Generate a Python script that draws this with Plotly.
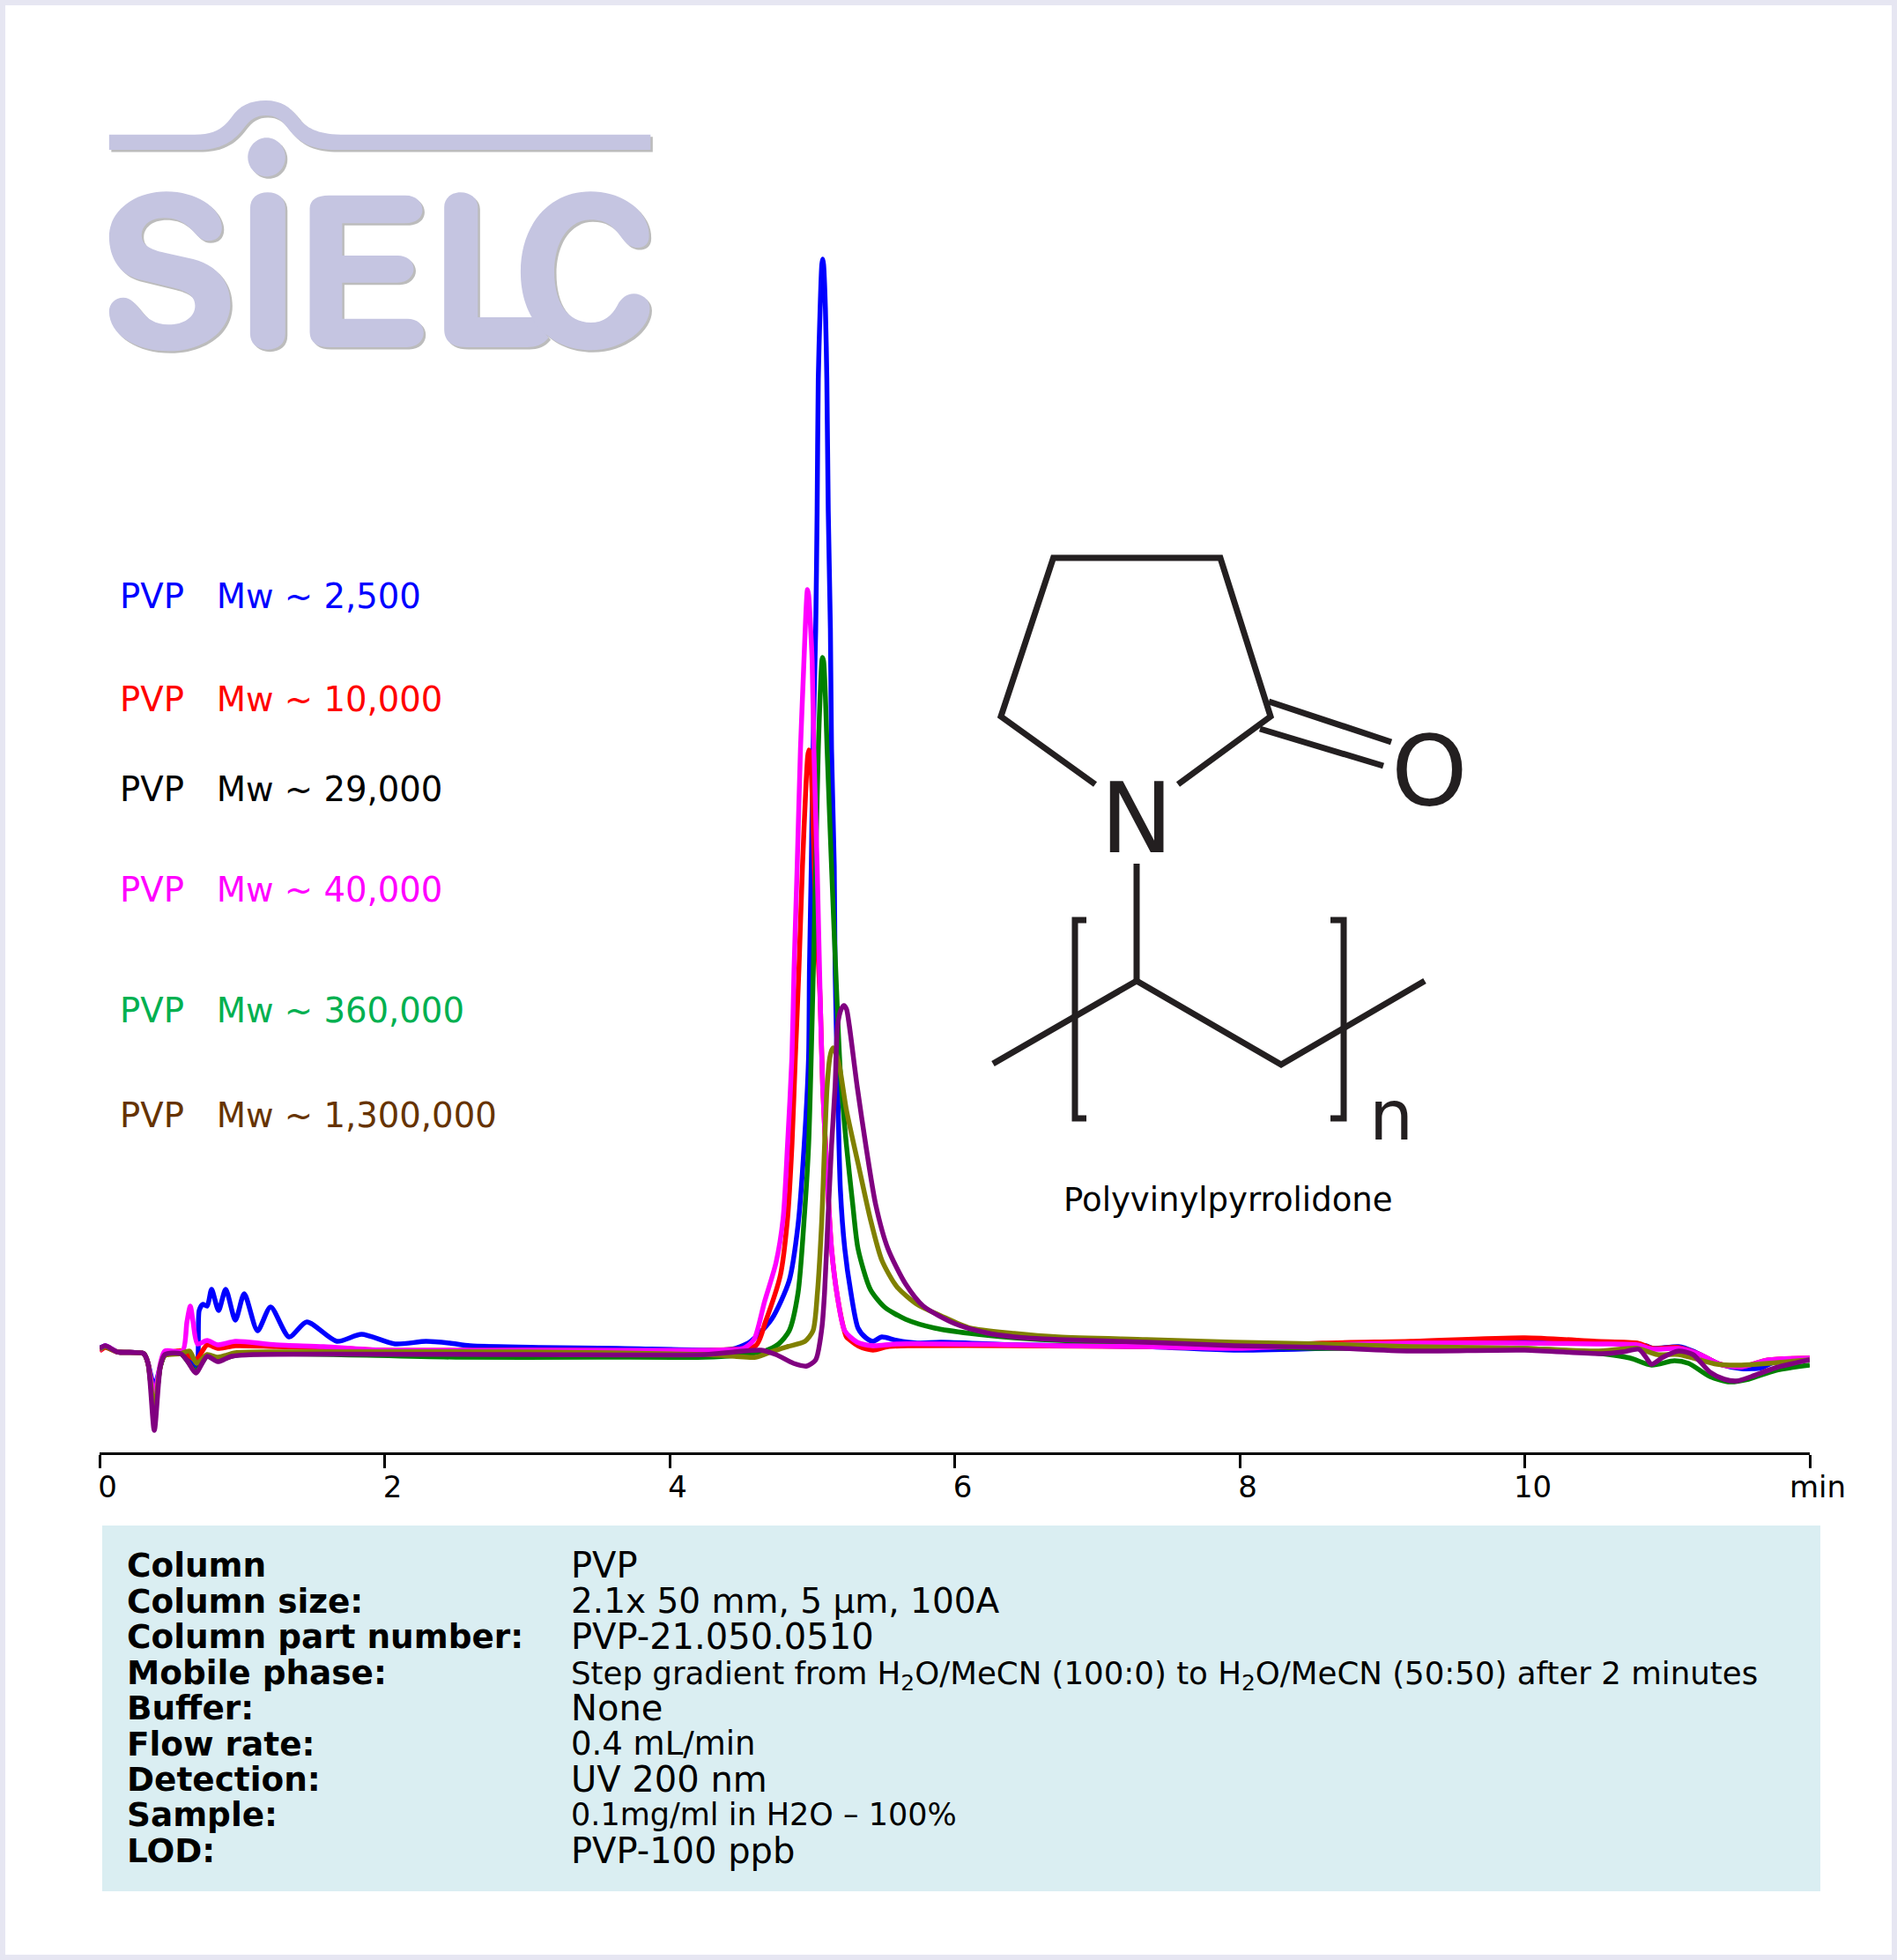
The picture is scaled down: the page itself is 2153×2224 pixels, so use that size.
import re
import plotly.graph_objects as go

# ---------- chart data (minutes, detector response) ----------
TIME_2500 = [0,0.04,0.124,0.31,0.34,0.384,0.427,0.458,0.569,0.644,0.681,0.699,0.724,0.755,0.786,0.835,0.885,0.953,1.015,1.108,1.2,1.33,1.454,1.665,1.838,2.073,2.29,2.457,2.6,3.094,3.632,4.332,4.437,4.561,4.715,4.839,4.901,4.944,4.975,4.981,4.994,5.006,5.025,5.035,5.043,5.056,5.068,5.074,5.08,5.093,5.103,5.113,5.128,5.136,5.155,5.161,5.179,5.198,5.229,5.272,5.322,5.377,5.427,5.489,5.594,5.736,5.903,6.417,7.345,7.96,8.58,9.2,10.0,10.5,10.79,10.85,10.9,11.08,11.18,11.37,11.52,11.66,11.76,12]
RESP_2500 = [7,10,3,1,-10,-36,-13,0,1,-10,-13,50,57,55,74,50,74,39,69,27,54,20,37,15,23,12,15,13,10,8,7,5,6,14,40,84,147,237,337,437,554,687,824,957,1107,1187,1237,1243,1237,1187,1107,957,824,687,554,437,304,187,120,70,30,19,15,20,16,13,14,11,9,5,7,11,17,14,11,10,7,9,4,-11,-16,-15,-8,-5]

TIME_10000 = [0,0.04,0.124,0.31,0.34,0.384,0.427,0.458,0.582,0.675,0.755,0.829,0.953,1.238,1.572,1.98,3.0,4.332,4.604,4.672,4.777,4.827,4.858,4.882,4.907,4.932,4.957,4.969,4.977,4.987,5.0,5.018,5.031,5.056,5.074,5.105,5.136,5.179,5.229,5.241,5.334,5.427,5.532,5.693,6.417,7.345,7.96,8.58,9.2,10,10.5,10.79,10.9,11.08,11.23,11.37,11.52,11.71,12]
RESP_10000 = [4,8,3,1,-10,-53,-13,0,4,-6,11,7,10,9,8,5,5,5,10,37,90,154,237,337,437,554,647,679,686,679,637,537,487,404,304,204,120,64,25,20,9,5,9,10,10,9,8,13,15,19,15,13,7,8,0,-11,-14,-6,-4]

TIME_40000 = [0,0.04,0.124,0.31,0.34,0.384,0.427,0.458,0.582,0.613,0.637,0.656,0.687,0.755,0.829,0.953,1.238,1.572,1.98,3.0,4.332,4.517,4.592,4.666,4.746,4.796,4.827,4.858,4.873,4.895,4.918,4.94,4.955,4.963,4.967,4.975,4.985,5.0,5.012,5.035,5.056,5.074,5.105,5.136,5.179,5.229,5.316,5.427,5.594,6.417,6.726,7.345,7.96,8.58,9.2,10,10.5,10.79,10.9,11.08,11.23,11.37,11.52,11.71,12]
RESP_40000 = [5,10,3,1,-10,-45,-10,4,4,37,55,37,12,16,11,15,11,9,5,5,5,7,17,60,104,154,237,337,437,554,687,777,837,862,868,862,837,787,687,554,407,304,204,120,64,27,14,10,12,11,10,9,7,11,13,13,12,11,6,7,0,-11,-14,-6,-4]

TIME_360000 = [0,0.04,0.124,0.31,0.34,0.384,0.427,0.458,0.569,0.675,0.755,0.829,0.953,1.238,2.5,3.5,4.251,4.455,4.666,4.765,4.839,4.901,4.944,4.975,5.004,5.025,5.043,5.056,5.068,5.072,5.08,5.093,5.105,5.136,5.173,5.198,5.241,5.285,5.322,5.408,5.507,5.656,5.86,6.108,6.417,6.6,7.345,7.96,8.58,10,10.54,10.74,10.89,11.05,11.15,11.3,11.44,11.57,11.76,12]
RESP_360000 = [6,9,3,1,-10,-63,-13,-1,1,-18,-2,-6,-1,1,-3,-3,-3,-1,4,12,27,70,154,237,407,554,687,747,787,791,787,747,687,554,407,320,237,170,120,74,54,40,30,24,19,17,12,10,7,7,1,-4,-12,-7,-10,-25,-31,-28,-18,-12]

TIME_1300000A = [0,0.04,0.124,0.31,0.34,0.384,0.427,0.458,0.569,0.631,0.681,0.755,0.829,0.953,1.238,3,4.251,4.455,4.604,4.728,4.827,4.95,5.006,5.037,5.068,5.087,5.105,5.124,5.136,5.148,5.167,5.192,5.241,5.322,5.408,5.489,5.594,5.736,5.903,6.108,6.417,6.726,7.345,7.96,8.58,9.2,10,10.5,10.79,10.93,11.08,11.35,11.52,11.71,12]
RESP_1300000A = [6,9,3,1,-10,-63,-13,-1,1,4,-10,0,-3,2,3,3,0,-2,-3,4,9,15,27,70,154,237,304,337,345,348,342,327,277,217,154,107,77,57,44,30,24,20,17,14,12,9,7,4,7,0,0,-11,-12,-10,-6]

TIME_1300000B = [0,0.04,0.124,0.31,0.34,0.384,0.427,0.458,0.569,0.619,0.675,0.755,0.829,0.928,1.077,3,4.251,4.455,4.641,4.746,4.87,4.963,5.025,5.068,5.087,5.111,5.136,5.161,5.179,5.204,5.223,5.241,5.26,5.316,5.377,5.446,5.532,5.656,5.78,6.002,6.213,6.417,6.726,7.345,7.96,8.58,9.2,10,10.54,10.69,10.8,10.85,10.89,10.97,11.08,11.18,11.3,11.4,11.49,11.59,11.76,12]
RESP_1300000B = [7,10,3,1,-10,-86,-13,0,1,-8,-21,-2,-8,-2,0,0,0,3,5,0,-10,-13,-6,30,70,154,237,304,374,392,396,392,374,304,237,170,120,80,55,35,25,20,17,14,10,8,4,5,1,3,6,-3,-11,-3,4,0,-20,-28,-30,-25,-15,-6]

TICK_VALUES = [0, 2, 4, 6, 8, 10, 12]
TICK_LABELS = ["0", "2", "4", "6", "8", "10", "min"]

SERIES_LABELS = ["PVP\u00a0\u00a0\u00a0Mw ~ 2,500", "PVP\u00a0\u00a0\u00a0Mw ~ 10,000", "PVP\u00a0\u00a0\u00a0Mw ~ 29,000",
                 "PVP\u00a0\u00a0\u00a0Mw ~ 40,000", "PVP\u00a0\u00a0\u00a0Mw ~ 360,000", "PVP\u00a0\u00a0\u00a0Mw ~ 1,300,000"]
LABEL_COLORS = ["#0000FF", "#FF0000", "#000000", "#FF00FF", "#00B050", "#663300"]
LABEL_Y = [677, 793, 896, 1010, 1146, 1265]

TABLE_KEYS = ["Column", "Column size:", "Column part number:", "Mobile phase:", "Buffer:",
              "Flow rate:", "Detection:", "Sample:", "LOD:"]
TABLE_VALUES = ["PVP", "2.1x 50 mm, 5 µm, 100A", "PVP-21.050.0510",
                "Step gradient from H<sub>2</sub>O/MeCN (100:0) to H<sub>2</sub>O/MeCN (50:50) after 2 minutes",
                "None", "0.4 mL/min", "UV 200 nm", "0.1mg/ml in H2O – 100%", "PVP-100 ppb"]
TABLE_VALUE_SIZES = [40, 39, 40, 35.6, 40, 37, 40, 35, 40]

W, H = 2153, 2224
AXIS_LEFT, AXIS_RIGHT, AXIS_Y, BASE_Y = 113, 2054, 1648, 1537
FONT = "DejaVu Sans"
INK = "#231F20"


def fx(x):
    return x / W


def fy(y):
    return 1 - y / H


def to_paper(path, sx=1.0, sy=1.0, ox=0.0, oy=0.0):
    def rep(m):
        return f"{fx(ox + float(m.group(1)) / sx):.6f},{fy(oy + float(m.group(2)) / sy):.6f}"
    return re.sub(r"(-?[\d.]+),(-?[\d.]+)", rep, path)


fig = go.Figure()

SERIES = [
    ("PVP Mw ~ 2,500", TIME_2500, RESP_2500, "#0000FF"),
    ("PVP Mw ~ 10,000", TIME_10000, RESP_10000, "#FF0000"),
    ("PVP Mw ~ 360,000", TIME_360000, RESP_360000, "#008000"),
    ("PVP Mw ~ 40,000", TIME_40000, RESP_40000, "#FF00FF"),
    ("PVP Mw ~ 1,300,000 (olive)", TIME_1300000A, RESP_1300000A, "#808000"),
    ("PVP Mw ~ 1,300,000", TIME_1300000B, RESP_1300000B, "#800080"),
]
for name, t, r, c in SERIES:
    fig.add_trace(go.Scatter(x=t, y=r, mode="lines", name=name, showlegend=False,
                             line=dict(color=c, width=5.5, shape="spline", smoothing=0.7, simplify=False),
                             hoverinfo="skip"))

shapes = [dict(type="rect", xref="paper", yref="paper", layer="below",
               x0=fx(6), x1=fx(W - 6), y0=fy(6), y1=fy(H - 6),
               fillcolor="#FFFFFF", line=dict(width=0)),
          dict(type="rect", xref="paper", yref="paper", layer="below",
               x0=fx(116), x1=fx(2066), y0=fy(1731), y1=fy(2146),
               fillcolor="#DAEEF2", line=dict(width=0))]

# ---------- logo (outline in its own 2.306 x 3 scaled grid) ----------
LOGO = [
    "M55,188 L280,188 C330,188 355,165 375,130 C395,90 425,72 465,72 C505,72 530,95 550,130 C570,165 600,187 660,188 L1472,188 L1472,240 L650,240 C590,240 555,220 525,170 C505,135 490,123 465,123 C440,123 425,135 405,170 C375,220 340,240 285,240 L55,240 Z",
    "M467,199 C495,199 516,230 516,265 C516,302 495,331 467,331 C440,331 418,302 418,265 C418,230 440,199 467,199 Z",
    "M424,440 C424,405 442,385 470,385 C498,385 516,405 516,440 L516,865 C516,900 498,920 470,920 C442,920 424,900 424,865 Z",
    "M580,440 C580,410 600,395 630,395 L830,395 C860,395 875,420 875,445 C875,470 860,490 830,490 L665,490 L665,600 L810,600 C835,600 852,620 852,645 C852,670 835,692 810,692 L665,692 L665,815 L835,815 C862,815 878,835 878,862 C878,890 862,912 835,912 L630,912 C600,912 580,895 580,860 Z",
    "M932,435 C932,405 950,385 975,385 C1000,385 1020,405 1020,435 L1020,810 L1165,810 L1205,880 C1190,905 1170,912 1150,912 L990,912 C950,912 932,890 932,850 Z",
    "M1468,530 C1470,570 1445,575 1430,572 C1410,568 1400,545 1385,520 C1365,490 1345,478 1315,478 C1260,478 1220,550 1220,655 C1220,760 1255,828 1315,828 C1350,828 1370,805 1385,770 C1395,745 1410,730 1428,730 C1450,730 1470,750 1470,780 C1470,850 1400,922 1315,922 C1210,922 1132,820 1132,655 C1132,490 1210,382 1315,382 C1400,382 1468,450 1468,530 Z",
    "M350,505 C350,535 335,550 315,550 C295,550 285,530 270,510 C250,485 230,472 200,472 C165,472 140,495 140,530 C140,565 165,580 200,590 L275,612 C330,630 372,680 372,765 C372,860 300,925 210,925 C125,925 55,870 55,790 C55,765 70,743 92,743 C112,743 125,765 140,790 C155,815 175,835 210,835 C250,835 280,810 280,770 C280,735 255,720 225,710 L130,680 C85,665 55,610 55,535 C55,450 120,382 205,382 C285,382 350,440 350,505 Z",
]
for p in LOGO:
    shapes.append(dict(type="path", xref="paper", yref="paper", layer="below",
                       path=to_paper(p, 2.306, 3, 102.5, 92.5), fillcolor="#BCBCBC", line=dict(width=0)))
for p in LOGO:
    shapes.append(dict(type="path", xref="paper", yref="paper", layer="below",
                       path=to_paper(p, 2.306, 3, 100, 90), fillcolor="#C5C5E1", line=dict(width=0)))

# ---------- structure formula ----------
BONDS = [
    "M1243,890 L1136,813 L1195.5,633 L1385,633 L1442,813 L1337,890",
    "M1440,796 L1579,842",
    "M1430,827 L1570,869",
    "M1290,980 L1290,1113",
    "M1127,1207 L1290,1113 L1454,1208 L1617,1113",
    "M1233,1044 L1220,1044 L1220,1269 L1233,1269",
    "M1510,1044 L1525,1044 L1525,1269 L1510,1269",
]
for b in BONDS:
    shapes.append(dict(type="path", xref="paper", yref="paper", layer="above",
                       path=to_paper(b), fillcolor="rgba(0,0,0,0)", line=dict(color=INK, width=7)))


def note(x, y, text, size, color="#000000", bold=False, xanchor="left"):
    return dict(x=fx(x), y=fy(y), xref="paper", yref="paper", text=text, showarrow=False,
                xanchor=xanchor, yanchor="middle", align="left", borderpad=0,
                font=dict(family=FONT, size=size, color=color, weight="bold" if bold else "normal"))


ann = []
for s, c, y in zip(SERIES_LABELS, LABEL_COLORS, LABEL_Y):
    ann.append(note(135, y, s, 38.6, c))
for i, (k, v, sz) in enumerate(zip(TABLE_KEYS, TABLE_VALUES, TABLE_VALUE_SIZES)):
    y = 1776.5 + 40.4 * i
    ann.append(note(143, y, k, 37.4, bold=True))
    ann.append(note(647, y + (3 if "<sub>" in v else 0), v, sz))
ann.append(note(1290, 929, "N", 110, INK, xanchor="center"))
ann.append(note(1622, 875, "O", 110, INK, xanchor="center"))
ann.append(note(1579, 1266, "n", 79, INK, xanchor="center"))
ann.append(note(1394, 1361, "Polyvinylpyrrolidone", 37, xanchor="center"))

fig.update_layout(
    width=W, height=H, autosize=False,
    margin=dict(l=0, r=0, t=0, b=0, pad=0, autoexpand=False),
    paper_bgcolor="#E6E6F2", plot_bgcolor="rgba(0,0,0,0)",
    showlegend=False, shapes=shapes, annotations=ann,
    xaxis=dict(domain=[fx(AXIS_LEFT), fx(AXIS_RIGHT)], range=[0, 12], tickmode="array",
               tickvals=TICK_VALUES, ticktext=TICK_LABELS, ticks="outside", ticklen=15, tickwidth=3,
               tickcolor="#000000", showline=True, linecolor="#000000", linewidth=3, showgrid=False,
               zeroline=False, ticklabelshift=9, ticklabelstandoff=-8,
               tickfont=dict(family=FONT, size=34, color="#000000")),
    yaxis=dict(domain=[1 - AXIS_Y / H, 1], range=[BASE_Y - AXIS_Y, BASE_Y], visible=False),
)

fig.write_html("out.html", config=dict(displayModeBar=False),
               post_script="document.body.style.margin='0';document.body.style.overflow='hidden';")
